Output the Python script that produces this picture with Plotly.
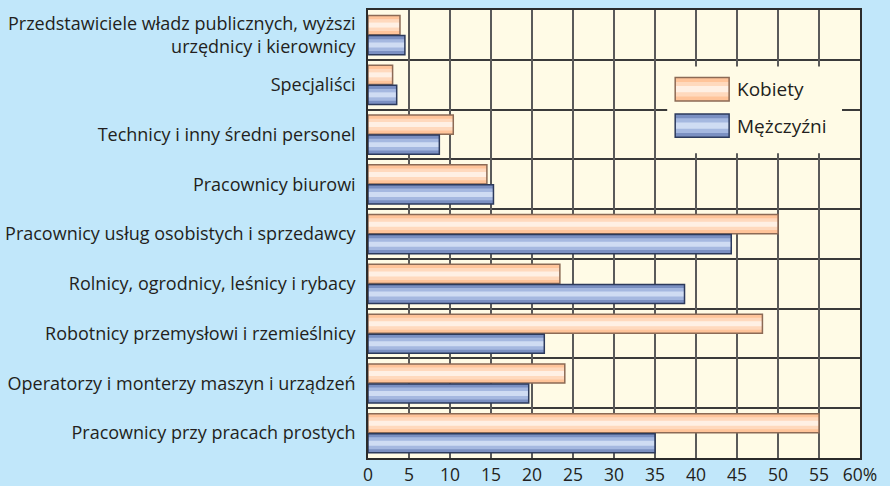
import plotly.graph_objects as go

categories = [
    "Przedstawiciele władz publicznych, wyższi<br>urzędnicy i kierownicy",
    "Specjaliści",
    "Technicy i inny średni personel",
    "Pracownicy biurowi",
    "Pracownicy usług osobistych i sprzedawcy",
    "Rolnicy, ogrodnicy, leśnicy i rybacy",
    "Robotnicy przemysłowi i rzemieślnicy",
    "Operatorzy i monterzy maszyn i urządzeń",
    "Pracownicy przy pracach prostych",
]
kobiety = [3.9, 3.0, 10.4, 14.5, 50.0, 23.4, 48.1, 24.0, 55.0]
mezczyzni = [4.5, 3.5, 8.7, 15.3, 44.3, 38.6, 21.5, 19.6, 35.0]
x_ticks = [0, 5, 10, 15, 20, 25, 30, 35, 40, 45, 50, 55, 60]
x_ticktext = ["0", "5", "10", "15", "20", "25", "30", "35", "40", "45", "50", "55", "60%"]
series_names = ["Kobiety", "Mężczyźni"]

ypos = list(range(len(categories)))
font = "Open Sans"
txt = "#231f20"
# gradient layers: edge, mid, centre, outline
k_cols = ["#ffc49a", "#ffd9bd", "#fff0e4", "#8c6a55"]
m_cols = ["#7b90c2", "#a5b8e0", "#cfdcf3", "#2c3a5c"]

fig = go.Figure()

def add_series(vals, name, cols, offset, width):
    fracs = [1.0, 0.62, 0.26]
    for col, f in zip(cols[:3], fracs):
        w = width * f
        fig.add_trace(go.Bar(y=ypos, x=vals, orientation="h", name=name,
                             width=w, offset=offset + (width - w) / 2,
                             marker=dict(color=col, line=dict(width=0)),
                             showlegend=False, hoverinfo="skip" if f < 1 else None))
    fig.add_trace(go.Bar(y=ypos, x=vals, orientation="h", name=name,
                         width=width, offset=offset,
                         marker=dict(color="rgba(0,0,0,0)", line=dict(color=cols[3], width=1.5)),
                         showlegend=False, hoverinfo="skip"))

add_series(kobiety, series_names[0], k_cols, -0.39, 0.385)
add_series(mezczyzni, series_names[1], m_cols, 0.012, 0.385)

L, R, T, B = 367.5, 30, 9.5, 28
W, H = 890, 486
pw, ph = W - L - R, H - T - B

def px(x):
    return (x - L) / pw

def py(y):
    return (H - B - y) / ph

shapes = [
    dict(type="rect", xref="paper", yref="paper", x0=px(667), x1=px(842), y0=py(153), y1=py(66),
         fillcolor="#fffbe6", line=dict(width=0), layer="above"),
]

def swatch(top, bottom, cols):
    h = bottom - top
    for col, f in zip(cols[:3], [1.0, 0.62, 0.26]):
        pad = h * (1 - f) / 2
        shapes.append(dict(type="rect", xref="paper", yref="paper", x0=px(675), x1=px(729),
                           y0=py(bottom - pad), y1=py(top + pad),
                           fillcolor=col, line=dict(width=0), layer="above"))
    shapes.append(dict(type="rect", xref="paper", yref="paper", x0=px(675), x1=px(729),
                       y0=py(bottom), y1=py(top),
                       fillcolor="rgba(0,0,0,0)", line=dict(color=cols[3], width=1.5), layer="above"))

swatch(77, 100.5, k_cols)
swatch(113.5, 137, m_cols)

annotations = [
    dict(xref="paper", yref="paper", x=px(735), y=py(89), text=series_names[0], showarrow=False,
         xanchor="left", yanchor="middle", font=dict(family=font, size=19, color=txt)),
    dict(xref="paper", yref="paper", x=px(735), y=py(125.5), text=series_names[1], showarrow=False,
         xanchor="left", yanchor="middle", font=dict(family=font, size=19, color=txt)),
]

fig.update_layout(
    width=W, height=H,
    margin=dict(l=L, r=R, t=T, b=B, pad=0, autoexpand=False),
    paper_bgcolor="#c1e7fa",
    plot_bgcolor="#fffbe6",
    barmode="overlay",
    font=dict(family=font, size=17, color=txt),
    shapes=shapes,
    annotations=annotations,
    xaxis=dict(range=[0, 60], tickvals=x_ticks, ticktext=x_ticktext, automargin=False,
               showgrid=True, gridcolor="#5a5a5a", gridwidth=1.5,
               showline=True, linecolor="#2b2b2b", linewidth=1.5, mirror=True,
               ticks="", ticklen=0,
               tickfont=dict(size=17.5), zeroline=False, fixedrange=True),
    yaxis=dict(range=[len(categories) - 0.5, -0.5], tickvals=ypos, ticktext=categories,
               automargin=False,
               showgrid=False, zeroline=False,
               minor=dict(tickvals=[i - 0.5 for i in range(len(categories) + 1)],
                          showgrid=True, gridcolor="#3a3a3a", gridwidth=1.5, ticks=""),
               showline=True, linecolor="#2b2b2b", linewidth=1.5, mirror=True,
               ticks="outside", ticklen=7, tickcolor="rgba(0,0,0,0)",
               tickfont=dict(size=18), fixedrange=True),
)

fig.write_html("out.html", config={"displayModeBar": False},
               post_script="document.body.style.margin='0';document.body.style.background='#c1e7fa';")
